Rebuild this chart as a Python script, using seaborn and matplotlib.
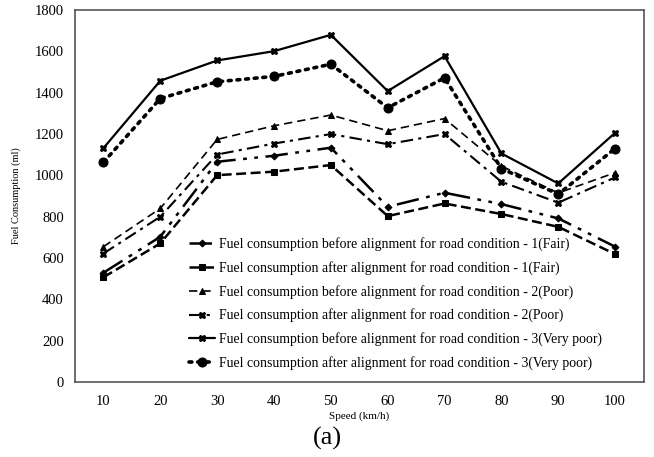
import matplotlib
matplotlib.use("Agg")
import matplotlib.pyplot as plt
import seaborn as sns
import numpy as np
from matplotlib.ticker import MultipleLocator, FixedLocator

speeds = [10, 20, 30, 40, 50, 60, 70, 80, 90, 100]
before_fair = [529, 703, 1066, 1095, 1134, 848, 916, 861, 792, 655]
after_fair = [507, 671, 1001, 1018, 1050, 803, 864, 813, 751, 619]
before_poor = [655, 840, 1174, 1240, 1292, 1216, 1275, 1045, 915, 1013]
after_poor = [622, 800, 1101, 1154, 1200, 1151, 1200, 969, 868, 990]
before_vpoor = [1132, 1458, 1556, 1601, 1680, 1408, 1577, 1106, 961, 1206]
after_vpoor = [1063, 1372, 1453, 1479, 1538, 1327, 1472, 1033, 909, 1130]

labels = [
    "Fuel consumption before alignment for road condition - 1(Fair)",
    "Fuel consumption after alignment for road condition - 1(Fair)",
    "Fuel consumption before alignment for road condition - 2(Poor)",
    "Fuel consumption after alignment for road condition - 2(Poor)",
    "Fuel consumption before alignment for road condition - 3(Very poor)",
    "Fuel consumption after alignment for road condition - 3(Very poor)",
]
series = [before_fair, after_fair, before_poor, after_poor, before_vpoor, after_vpoor]

styles = [
    dict(linestyle=(0, (9, 3, 1.5, 3, 1.5, 3)), linewidth=1.8, marker="D", markersize=3.5),
    dict(linestyle=(0, (4, 1.8)), linewidth=1.8, marker="s", markersize=5),
    dict(linestyle=(0, (5, 3)), linewidth=1.2, marker="^", markersize=4.5),
    dict(linestyle=(0, (6, 2.5, 1.5, 2.5)), linewidth=1.5, marker="X", markersize=4.5),
    dict(linestyle="-", linewidth=1.6, marker="X", markersize=4.5),
    dict(linestyle=(0, (0.8, 1.6)), linewidth=2.6, marker="o", markersize=6.5, dash_capstyle="round"),
]

sns.set_theme(style="white")
plt.rcParams["font.family"] = ["Liberation Serif", "DejaVu Serif"]
plt.rcParams["text.color"] = "black"
plt.rcParams["axes.labelcolor"] = "black"

fig = plt.figure(figsize=(6.54, 4.57), dpi=100)
ax = fig.add_axes([0.1147, 0.164, 0.8693, 0.814])

for vals, lab, st in zip(series, labels, styles):
    sns.lineplot(x=speeds, y=vals, ax=ax, color="black", label=lab,
                 markeredgecolor="black", markerfacecolor="black", **st)

ax.set_xlim(5, 105)
ax.set_ylim(0, 1800)
ax.xaxis.set_major_locator(FixedLocator(speeds))
ax.xaxis.set_minor_locator(FixedLocator([5 + 10 * i for i in range(11)]))
ax.yaxis.set_major_locator(MultipleLocator(200))
ax.yaxis.set_minor_locator(MultipleLocator(50))
ax.tick_params(axis="both", which="both", direction="in", color="#555555", labelcolor="black")
ax.tick_params(axis="x", which="major", length=4, width=0.8, labelsize=10.5, pad=9)
ax.tick_params(axis="x", which="minor", length=4, width=0.8)
ax.tick_params(axis="y", which="major", length=4, width=0.8, labelsize=10.5, pad=8)
ax.tick_params(axis="y", which="minor", length=2.5, width=0.6)
for sp in ax.spines.values():
    sp.set_color("#555555")
    sp.set_linewidth(1.2)

ax.set_xlabel("Speed (km/h)", fontsize=8, labelpad=3, color="black")
ax.set_ylabel("Fuel Consumption (ml)", fontsize=7.5, labelpad=10, color="black")

leg = ax.legend(loc="upper left", bbox_to_anchor=(0.2, 0.39), frameon=False,
                fontsize=9.9, handlelength=1.9, handletextpad=0.3,
                labelspacing=0.72, borderaxespad=0, borderpad=0, labelcolor="black")

fig.text(0.5, 0.015, "(a)", ha="center", va="bottom", fontsize=19, color="black")

fig.savefig("out.png", dpi=100)
